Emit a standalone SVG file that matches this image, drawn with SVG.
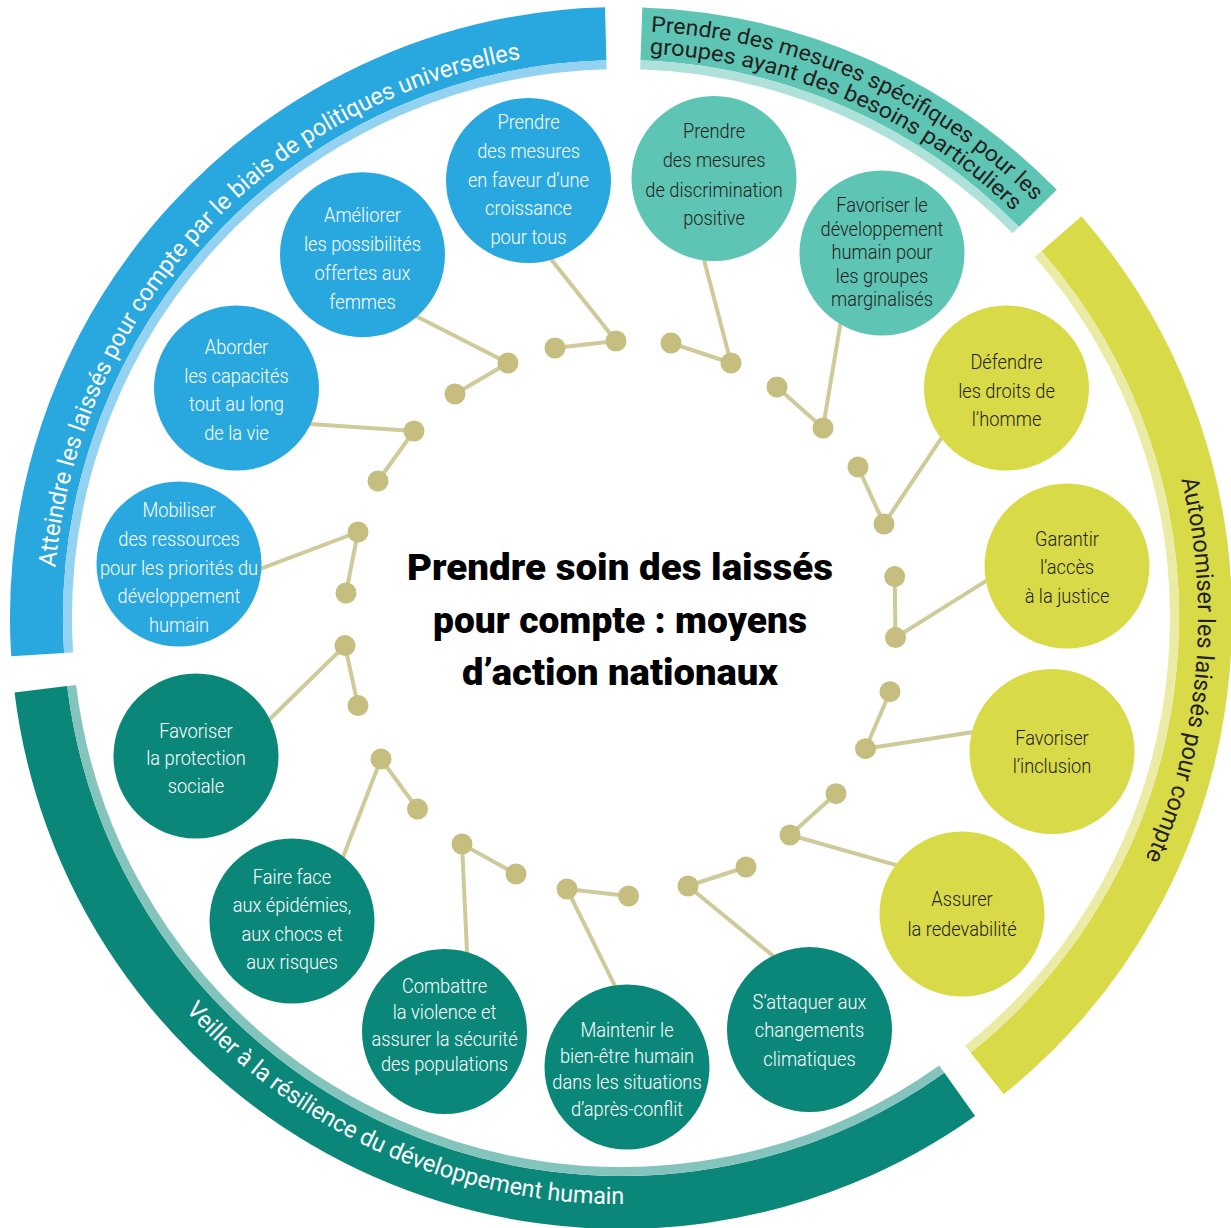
<svg xmlns="http://www.w3.org/2000/svg" width="1231" height="1228" viewBox="0 0 1231 1228">
<style>
.band{fill:none;stroke-width:53}
.stripe{fill:none;stroke-width:9}
.arct{font-family:Roboto,"Liberation Sans",sans-serif;font-size:24px}
.nt{font-family:Roboto,"Liberation Sans",sans-serif;font-weight:300;font-size:20.5px;text-anchor:middle}
.w{fill:#ffffff}
.k{fill:#231f20}
.blue{fill:#29a8e0}
.teal{fill:#5ec4b4}
.yel{fill:#d9da48}
.dteal{fill:#0b877a}
.ln{fill:none;stroke:#cfca9a;stroke-width:4;stroke-linejoin:round}
.dot{fill:#c6be7f}
.title{font-family:Roboto,"Liberation Sans",sans-serif;font-weight:900;font-size:36px;text-anchor:middle;fill:#000}
</style>
<defs>
<path id="pBlue" d="M55.25,567.51 A568,568 0 0 1 719.63,58.63"/>
<path id="pTeal1" d="M650.70,31.75 A587,587 0 0 1 1129.36,324.5"/>
<path id="pTeal2" d="M649.58,53.72 A565,565 0 0 1 1110.31,335.5"/>
<path id="pYel" d="M1181.11,479.39 A577,577 0 0 1 1063.0,988.89"/>
<path id="pDteal" d="M185.5,1010.5 A586,586 0 0 0 914,1125.49"/>
</defs>
<g id="rings">
<path class="band" stroke="#29a8e0" d="M37.65,654.70 A584.5,584.5 0 0 1 605.70,33.70"/>
<path class="stripe" stroke="#93d2f1" d="M68.59,652.75 A553.5,553.5 0 0 1 606.51,64.69"/>
<path class="band" stroke="#5ec4b4" d="M641.40,33.86 A584.5,584.5 0 0 1 1037.89,208.32"/>
<path class="stripe" stroke="#ade1da" d="M640.32,64.84 A553.5,553.5 0 0 1 1015.78,230.05"/>
<path class="band" stroke="#d9da48" d="M1061.46,233.76 A584.5,584.5 0 0 1 987.25,1073.52"/>
<path class="stripe" stroke="#eaeba5" d="M1038.10,254.14 A553.5,553.5 0 0 1 967.82,1049.36"/>
<path class="band" stroke="#0b877a" d="M959.73,1094.34 A584.5,584.5 0 0 1 40.85,689.23"/>
<path class="stripe" stroke="#85c3bd" d="M941.77,1069.08 A553.5,553.5 0 0 1 71.62,685.46"/>
<text class="arct w"><textPath href="#pBlue" textLength="741" lengthAdjust="spacingAndGlyphs">Atteindre les laissés pour compte par le biais de politiques universelles</textPath></text>
<text class="arct k" style="font-size:22px"><textPath href="#pTeal1" textLength="429" lengthAdjust="spacingAndGlyphs">Prendre des mesures spécifiques pour les</textPath></text>
<text class="arct k" style="font-size:22px"><textPath href="#pTeal2" textLength="405" lengthAdjust="spacingAndGlyphs">groupes ayant des besoins particuliers</textPath></text>
<text class="arct k"><textPath href="#pYel" textLength="388" lengthAdjust="spacingAndGlyphs">Autonomiser les laissés pour compte</textPath></text>
<text class="arct w"><textPath href="#pDteal" textLength="494" lengthAdjust="spacingAndGlyphs">Veiller à la résilience du développement humain</textPath></text>
</g>
<g id="connectors">
<polyline class="ln" points="548.5,255.9 616,341 555,348"/>
<polyline class="ln" points="412.4,314.2 508,363 455,394"/>
<polyline class="ln" points="306,423.7 414,431 378,481"/>
<polyline class="ln" points="256.3,570.4 358,532 346,593"/>
<polyline class="ln" points="266.1,722.8 345,645.6 358,705.6"/>
<polyline class="ln" points="341.6,860.7 381,759 417.5,809"/>
<polyline class="ln" points="467.2,956 462,844 516,874"/>
<polyline class="ln" points="616.8,989.6 567,889 628.6,896"/>
<polyline class="ln" points="775.1,957.5 688,886 746,867"/>
<polyline class="ln" points="899.8,866.1 790,835 836,793.7"/>
<polyline class="ln" points="976.7,731.4 865.5,748.7 890,691.7"/>
<polyline class="ln" points="989.4,578.9 895.5,637.6 894.7,576.6"/>
<polyline class="ln" points="943.7,434.7 884,524 858,467"/>
<polyline class="ln" points="840.7,322.1 823,428 777,387"/>
<polyline class="ln" points="703,256.1 731,363 671,343"/>
<circle class="dot" cx="616" cy="341" r="10.5"/><circle class="dot" cx="555" cy="348" r="10.5"/>
<circle class="dot" cx="508" cy="363" r="10.5"/><circle class="dot" cx="455" cy="394" r="10.5"/>
<circle class="dot" cx="414" cy="431" r="10.5"/><circle class="dot" cx="378" cy="481" r="10.5"/>
<circle class="dot" cx="358" cy="532" r="10.5"/><circle class="dot" cx="346" cy="593" r="10.5"/>
<circle class="dot" cx="345" cy="645.6" r="10.5"/><circle class="dot" cx="358" cy="705.6" r="10.5"/>
<circle class="dot" cx="381" cy="759" r="10.5"/><circle class="dot" cx="417.5" cy="809" r="10.5"/>
<circle class="dot" cx="462" cy="844" r="10.5"/><circle class="dot" cx="516" cy="874" r="10.5"/>
<circle class="dot" cx="567" cy="889" r="10.5"/><circle class="dot" cx="628.6" cy="896" r="10.5"/>
<circle class="dot" cx="688" cy="886" r="10.5"/><circle class="dot" cx="746" cy="867" r="10.5"/>
<circle class="dot" cx="790" cy="835" r="10.5"/><circle class="dot" cx="836" cy="793.7" r="10.5"/>
<circle class="dot" cx="865.5" cy="748.7" r="10.5"/><circle class="dot" cx="890" cy="691.7" r="10.5"/>
<circle class="dot" cx="895.5" cy="637.6" r="10.5"/><circle class="dot" cx="894.7" cy="576.6" r="10.5"/>
<circle class="dot" cx="884" cy="524" r="10.5"/><circle class="dot" cx="858" cy="467" r="10.5"/>
<circle class="dot" cx="823" cy="428" r="10.5"/><circle class="dot" cx="777" cy="387" r="10.5"/>
<circle class="dot" cx="731" cy="363" r="10.5"/><circle class="dot" cx="671" cy="343" r="10.5"/>
</g>
<g id="n1" transform="translate(528.5,180.5)"><circle class="blue" r="82.5"/><text class="nt w" transform="scale(0.89,1)"><tspan x="0" y="-52">Prendre</tspan><tspan x="0" y="-23">des mesures</tspan><tspan x="0" y="6">en faveur d’une</tspan><tspan x="0" y="35">croissance</tspan><tspan x="0" y="64">pour tous</tspan></text></g>
<g id="n2" transform="translate(362.5,254.7)"><circle class="blue" r="82.5"/><text class="nt w" transform="scale(0.89,1)"><tspan x="0" y="-33">Améliorer</tspan><tspan x="0" y="-4">les possibilités</tspan><tspan x="0" y="25">offertes aux</tspan><tspan x="0" y="54">femmes</tspan></text></g>
<g id="n3" transform="translate(236.5,388)"><circle class="blue" r="82.5"/><text class="nt w" transform="scale(0.89,1)"><tspan x="0" y="-34">Aborder</tspan><tspan x="0" y="-5">les capacités</tspan><tspan x="0" y="23">tout au long</tspan><tspan x="0" y="52">de la vie</tspan></text></g>
<g id="n4" transform="translate(179,564)"><circle class="blue" r="82.5"/><text class="nt w" transform="scale(0.89,1)"><tspan x="0" y="-47">Mobiliser</tspan><tspan x="0" y="-18">des ressources</tspan><tspan x="0" y="11">pour les priorités du</tspan><tspan x="0" y="39">développement</tspan><tspan x="0" y="68">humain</tspan></text></g>
<g id="n5" transform="translate(714,178.5)"><circle class="teal" r="82.5"/><text class="nt k" transform="scale(0.89,1)"><tspan x="0" y="-41">Prendre</tspan><tspan x="0" y="-12">des mesures</tspan><tspan x="0" y="18">de discrimination</tspan><tspan x="0" y="47">positive</tspan></text></g>
<g id="n6" transform="translate(882,253)"><circle class="teal" r="82.5"/><text class="nt k" transform="scale(0.89,1)"><tspan x="0" y="-41">Favoriser le</tspan><tspan x="0" y="-17">développement</tspan><tspan x="0" y="6">humain pour</tspan><tspan x="0" y="30">les groupes</tspan><tspan x="0" y="53">marginalisés</tspan></text></g>
<g id="n7" transform="translate(1006.5,388)"><circle class="yel" r="82.5"/><text class="nt k" transform="scale(0.89,1)"><tspan x="0" y="-19">Défendre</tspan><tspan x="0" y="10">les droits de</tspan><tspan x="0" y="38">l’homme</tspan></text></g>
<g id="n8" transform="translate(1067,566)"><circle class="yel" r="82.5"/><text class="nt k" transform="scale(0.89,1)"><tspan x="0" y="-20">Garantir</tspan><tspan x="0" y="8">l’accès</tspan><tspan x="0" y="37">à la justice</tspan></text></g>
<g id="n9" transform="translate(1052,751.5)"><circle class="yel" r="82.5"/><text class="nt k" transform="scale(0.89,1)"><tspan x="0" y="-6.5">Favoriser</tspan><tspan x="0" y="21.5">l’inclusion</tspan></text></g>
<g id="n10" transform="translate(962,914)"><circle class="yel" r="82.5"/><text class="nt k" transform="scale(0.89,1)"><tspan x="0" y="-8">Assurer</tspan><tspan x="0" y="22">la redevabilité</tspan></text></g>
<g id="n11" transform="translate(809.5,1029.6)"><circle class="dteal" r="82.5"/><text class="nt w" transform="scale(0.89,1)"><tspan x="0" y="-21">S’attaquer aux</tspan><tspan x="0" y="7">changements</tspan><tspan x="0" y="36">climatiques</tspan></text></g>
<g id="n12" transform="translate(627,1067)"><circle class="dteal" r="82.5"/><text class="nt w" transform="scale(0.89,1)"><tspan x="0" y="-30">Maintenir le</tspan><tspan x="0" y="-4">bien-être humain</tspan><tspan x="0" y="22">dans les situations</tspan><tspan x="0" y="49">d’après-conflit</tspan></text></g>
<g id="n13" transform="translate(444.5,1031.5)"><circle class="dteal" r="82.5"/><text class="nt w" transform="scale(0.89,1)"><tspan x="0" y="-39">Combattre</tspan><tspan x="0" y="-13">la violence et</tspan><tspan x="0" y="14">assurer la sécurité</tspan><tspan x="0" y="40">des populations</tspan></text></g>
<g id="n14" transform="translate(292,921)"><circle class="dteal" r="82.5"/><text class="nt w" transform="scale(0.89,1)"><tspan x="0" y="-37">Faire face</tspan><tspan x="0" y="-9">aux épidémies,</tspan><tspan x="0" y="20">aux chocs et</tspan><tspan x="0" y="48">aux risques</tspan></text></g>
<g id="n15" transform="translate(196,756)"><circle class="dteal" r="82.5"/><text class="nt w" transform="scale(0.89,1)"><tspan x="0" y="-18">Favoriser</tspan><tspan x="0" y="9">la protection</tspan><tspan x="0" y="37">sociale</tspan></text></g>
<g id="title">
<text class="title" x="620" y="580" textLength="426" lengthAdjust="spacingAndGlyphs">Prendre soin des laissés</text>
<text class="title" x="620" y="633" textLength="374" lengthAdjust="spacingAndGlyphs">pour compte : moyens</text>
<text class="title" x="620" y="685" textLength="316" lengthAdjust="spacingAndGlyphs">d’action nationaux</text>
</g>
</svg>
